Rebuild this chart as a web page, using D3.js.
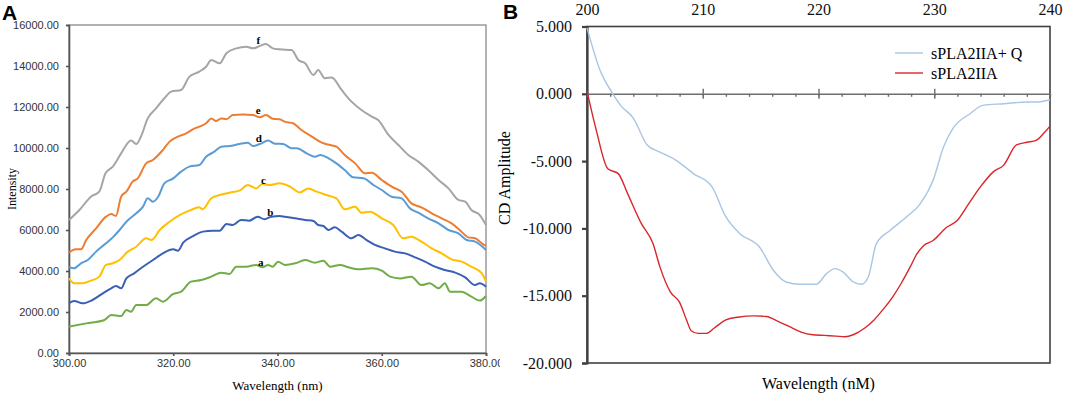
<!DOCTYPE html>
<html>
<head>
<meta charset="utf-8">
<script src="https://cdn.jsdelivr.net/npm/d3@7"></script>
<style>
  body { margin: 0; background: #fff; }
  svg { display: block; }
  .serif { font-family: "Liberation Serif", "Times New Roman", serif; }
  .axis-a text { font-family: "Liberation Sans", Arial, sans-serif; font-size: 11px; fill: #333; }
  .axis-b text { font-family: "Liberation Serif", "Times New Roman", serif; font-size: 16px; fill: #111; }
</style>
</head>
<body>
<div id="chart"></div>
<script>
// ---- Panel A: fluorescence spectra, [wavelength nm, intensity] ----
const seriesA = [[300,1285],[303.3,1445],[306.8,1610],[308.1,1855],[310,1805],[311,2100],[311.9,2015],[312.9,2340],[314.8,2340],[316.7,2665],[318,2505],[320,2880],[321.5,2990],[323.4,3480],[325.4,3560],[327.3,3725],[329.2,3920],[330.8,3855],[332.1,4210],[334,4210],[335.9,4295],[337.1,4180],[338.2,4295],[339.1,4210],[340.1,4455],[341.4,4295],[343.4,4375],[345.3,4535],[347.2,4405],[348.8,4505],[350.1,4210],[352,4295],[353.6,4180],[355.5,4080],[358.1,4130],[360,4015],[361.6,3725],[363.5,3640],[365.7,3725],[367.6,3315],[369.2,3400],[370.9,3155],[372.1,3400],[373.1,2990],[375.3,2990],[377.2,2750],[378.8,2555],[380,2780]];
const seriesB = [[300,2425],[301,2535],[302.6,2425],[304.5,2585],[306.5,2910],[308.1,3155],[309,3270],[310,3155],[311,3640],[312.5,3885],[314.2,4210],[316.1,4535],[318,4860],[320,5055],[320.9,4990],[321.9,5380],[323.8,5705],[325.7,5920],[327.6,5965],[328.9,5965],[330.2,6295],[331.4,6245],[333,6490],[334.6,6455],[336.2,6650],[337.5,6520],[338.8,6650],[340.4,6685],[341.4,6650],[343.4,6570],[345.3,6490],[346.9,6440],[347.8,6245],[348.8,6195],[349.8,6000],[351,6130],[352.3,5920],[354.2,5595],[355.5,5755],[357.1,5510],[358.7,5270],[360.6,5105],[362.5,4945],[364.5,4860],[366.4,4665],[368.3,4455],[370.2,4210],[372.1,4050],[374.1,3920],[376,3690],[377.9,3315],[378.8,3400],[380,3235]];
const seriesC = [[300,3640],[301,3400],[302.6,3400],[304.2,3530],[305.8,3725],[307.1,4295],[308.4,4375],[309.7,4535],[311.3,4945],[312.9,5185],[314.8,5595],[315.8,5510],[317.4,6000],[319.3,6405],[321.2,6730],[323.1,6945],[325,7105],[325.6,7010],[327.3,7545],[328.9,7705],[330.8,7820],[332.7,7920],[334.3,8195],[335.9,8030],[337.1,8245],[338.4,8195],[340.4,8275],[342.4,8115],[344.3,7835],[345.9,8030],[347.5,7870],[349.4,7705],[351.3,7545],[352.9,7010],[354.9,7140],[356.1,6845],[357.7,6895],[360,6570],[362.2,6245],[364.1,5595],[365.7,5675],[367.6,5430],[369.6,5105],[371.5,4860],[373.4,4570],[375.3,4455],[377.2,4210],[379.2,3885],[380,3480]];
const seriesD = [[300,4180],[301,4130],[302.3,4375],[303.6,4535],[305.2,4945],[307.1,5350],[308.4,5640],[309.7,6000],[311,6405],[312.9,6815],[314.2,7140],[315.1,7545],[316.1,7380],[317.1,7625],[318.3,8275],[320,8520],[321.5,8845],[323.1,9090],[325,9170],[326.3,9575],[327.9,9820],[329.2,10065],[330.8,10095],[332.7,10195],[334.3,10260],[335.3,10095],[336.6,10195],[338.2,10360],[339.5,10210],[341.1,10195],[342.7,9985],[343.7,9985],[345.6,9740],[347.2,9575],[348.2,9660],[349.8,9495],[351.3,9250],[352.9,8925],[354.5,8570],[356.5,8520],[358.4,8195],[360,7950],[361.9,7625],[363.8,7545],[365.4,7055],[367,6845],[368.9,6570],[370.9,6325],[372.8,6000],[374.7,5835],[376.3,5510],[377.9,5430],[380,5025]];
const seriesE = [[300,4895],[301.3,5055],[302.3,5055],[303.3,5510],[305.2,6080],[307.1,6650],[308.1,6780],[309,6685],[310,7625],[311,7870],[312.2,8360],[313.2,8520],[314.8,9250],[316.1,9415],[318,9900],[319.3,10310],[320.9,10555],[322.5,10715],[324.1,10960],[325.4,11075],[326.3,11205],[327.3,11445],[328.2,11315],[329.2,11445],[330.2,11400],[331.4,11610],[333.4,11640],[335.3,11610],[336.6,11495],[337.8,11610],[339.1,11430],[340.4,11400],[341.4,11285],[343,11205],[344.6,10880],[346.6,10555],[348.5,10260],[350.1,10145],[351.3,10065],[352.9,9660],[354.9,9250],[356.8,8765],[358.1,8795],[360,8440],[361.9,8115],[363.8,7870],[365.7,7300],[367.6,7105],[369.6,6815],[371.5,6570],[373.4,6325],[375.3,5920],[376.6,5640],[377.9,5595],[379.2,5350],[380,5220]];
const seriesF = [[300,6490],[302,6975],[304.2,7625],[305.8,7870],[307,8765],[308.4,9090],[310,9740],[311.9,10360],[312.9,10195],[313.8,10555],[315.1,11445],[316.7,11935],[318.3,12425],[319.6,12750],[321.5,12830],[323.1,13480],[325,13725],[326.3,13965],[327.3,14295],[328.9,14130],[330.2,14620],[332.1,14860],[334,14945],[335.3,14860],[336.6,14975],[337.8,15075],[339.1,14860],[340.4,14815],[342.7,14780],[344,14295],[345.3,14130],[346.9,13560],[347.8,13805],[349.1,13400],[350.4,13445],[352.3,12830],[354.2,12260],[356.1,11855],[358.1,11530],[359.3,11365],[361.3,10635],[363.2,10145],[365.1,9660],[367,9335],[368.9,8925],[370.9,8440],[372.8,8030],[374.7,7465],[376,7380],[377.2,6975],[378.8,6730],[380,6245]];

const spectraNames = ['a', 'b', 'c', 'd', 'e', 'f'];
const spectraColors = ['#70ad47', '#3a60b5', '#ffc000', '#5b9bd5', '#ed7d31', '#a5a5a5'];
// curve letter labels: [wavelength, intensity]
const letterPos = [[336.8,4440],[338.6,6880],[337.3,8440],[336.4,10490],[336.3,11850],[336.3,15270]];
const intensityTicks = [0, 2000, 4000, 6000, 8000, 10000, 12000, 14000, 16000];
const wavelengthTicksA = [300, 320, 340, 360, 380];

// ---- Panel B: CD spectra, [wavelength nm, CD amplitude] ----
const cdWithQ = [[200,4.9],[200.5,3.4],[201.1,1.8],[201.6,0.9],[202.3,-0.1],[202.9,-0.86],[204,-1.8],[205.2,-3.8],[206.3,-4.33],[207.7,-4.94],[209.2,-5.93],[210.8,-6.92],[212,-9.15],[213.2,-10.39],[214.9,-11.38],[216.1,-13.11],[217.2,-13.98],[218.4,-14.15],[219.8,-14.15],[220.7,-13.36],[221.4,-12.99],[222.1,-13.23],[223,-13.98],[223.7,-14.15],[224.3,-13.61],[225,-11.13],[226.2,-10.14],[227.6,-9.15],[228.8,-8.16],[229.9,-6.43],[230.8,-3.95],[231.6,-2.59],[233.1,-1.48],[234.2,-0.86],[236,-0.74],[238,-0.61],[238.8,-0.61],[240,-0.44]];
const cdNative = [[200,0.2],[200.8,-2.7],[201.8,-5.57],[202.7,-5.93],[203.5,-7.4],[204.7,-9.65],[205.7,-11.13],[206.3,-12.86],[207.2,-14.72],[208,-15.5],[208.6,-16.8],[209,-17.6],[209.6,-17.8],[210.3,-17.8],[211,-17.4],[212,-16.8],[213,-16.6],[214.5,-16.5],[215.5,-16.55],[216.5,-16.9],[217.5,-17.3],[218.5,-17.7],[219.5,-17.9],[220.5,-17.95],[221.5,-18.0],[222.3,-18.05],[223,-17.9],[224,-17.4],[224.8,-16.8],[225.6,-16.0],[226.4,-15.1],[227.2,-14.0],[227.9,-12.9],[228.5,-11.9],[229.05,-11.3],[229.9,-10.9],[231.1,-9.9],[232,-9.4],[232.8,-8.4],[234,-6.9],[235.1,-5.8],[236,-5.3],[237.1,-3.8],[238,-3.6],[238.8,-3.46],[239.5,-2.9],[240,-2.4]];
const cdNames = ['sPLA2IIA+ Q', 'sPLA2IIA'];
const cdColors = ['#a9c6e2', '#d9262b'];
const cdTicks = [5, 0, -5, -10, -15, -20];
const wavelengthTicksB = [200, 210, 220, 230, 240];
const wavelengthMinorB = d3.range(200, 241, 2);

const svg = d3.select('#chart').append('svg')
    .attr('width', 1065)
    .attr('height', 395);

class SpectraChart {
    constructor(_config) {
        this.config = {
            left: _config.left,
            top: _config.top,
            width: _config.width,
            height: _config.height
        };
        this.initVis();
    }

    initVis() {
        let vis = this;
        const c = vis.config;

        svg.append('clipPath').attr('id', 'clipA')
            .append('rect').attr('x', 0).attr('y', 0).attr('width', 500).attr('height', 395);

        vis.root = svg.append('g').attr('clip-path', 'url(#clipA)');
        vis.chart = vis.root.append('g')
            .attr('transform', `translate(${c.left},${c.top})`);

        vis.xScale = d3.scaleLinear().domain([300, 380]).range([0, c.width]);
        vis.yScale = d3.scaleLinear().domain([0, 16000]).range([c.height, 0]);

        // frame
        vis.chart.append('rect')
            .attr('width', c.width).attr('height', c.height)
            .attr('fill', 'none').attr('stroke', '#8a8a8a').attr('stroke-width', 1.3);

        vis.chart.append('g')
            .attr('class', 'axis-a')
            .call(d3.axisLeft(vis.yScale).tickValues(intensityTicks)
                .tickFormat(d3.format('.2f')).tickSize(3).tickPadding(7))
            .call(g => g.selectAll('path, line').attr('stroke', '#555').attr('stroke-width', 1.6));

        vis.chart.append('g')
            .attr('class', 'axis-a')
            .attr('transform', `translate(0,${c.height})`)
            .call(d3.axisBottom(vis.xScale).tickValues(wavelengthTicksA)
                .tickFormat(d3.format('.2f')).tickSize(3).tickPadding(3))
            .call(g => g.selectAll('path, line').attr('stroke', '#555').attr('stroke-width', 1.6));

        vis.root.append('text')
            .attr('class', 'serif')
            .attr('transform', 'translate(16,189) rotate(-90)')
            .attr('text-anchor', 'middle')
            .attr('font-size', 12)
            .text('Intensity');

        vis.root.append('text')
            .attr('class', 'serif')
            .attr('x', c.left + c.width / 2).attr('y', 390)
            .attr('text-anchor', 'middle')
            .attr('font-size', 13)
            .text('Wavelength (nm)');

        vis.root.append('text')
            .attr('x', 2).attr('y', 20)
            .attr('font-family', 'Liberation Sans, Arial, sans-serif')
            .attr('font-weight', 'bold').attr('font-size', 21)
            .text('A');

        vis.renderVis();
    }

    renderVis() {
        let vis = this;
        const all = [seriesA, seriesB, seriesC, seriesD, seriesE, seriesF];

        const line = d3.line()
            .x(d => vis.xScale(d[0]))
            .y(d => vis.yScale(d[1]))
            .curve(d3.curveMonotoneX);

        vis.chart.selectAll('.spectrum')
            .data(all)
          .join('path')
            .attr('class', 'spectrum')
            .attr('d', line)
            .attr('fill', 'none')
            .attr('stroke', (d, i) => spectraColors[i])
            .attr('stroke-width', 2);

        vis.chart.selectAll('.letter')
            .data(letterPos)
          .join('text')
            .attr('class', 'letter serif')
            .attr('x', d => vis.xScale(d[0]))
            .attr('y', d => vis.yScale(d[1]))
            .attr('dy', '0.35em')
            .attr('text-anchor', 'middle')
            .attr('font-size', 11)
            .attr('font-weight', 'bold')
            .text((d, i) => spectraNames[i]);
    }
}

class CdChart {
    constructor(_config) {
        this.config = {
            left: _config.left,
            top: _config.top,
            width: _config.width,
            height: _config.height
        };
        this.initVis();
    }

    initVis() {
        let vis = this;
        const c = vis.config;

        vis.chart = svg.append('g')
            .attr('transform', `translate(${c.left},${c.top})`);

        vis.xScale = d3.scaleLinear().domain([200, 240]).range([0, c.width]);
        vis.yScale = d3.scaleLinear().domain([-20, 5]).range([c.height, 0]);

        // frame
        vis.chart.append('rect')
            .attr('width', c.width).attr('height', c.height)
            .attr('fill', 'none').attr('stroke', '#404040').attr('stroke-width', 1.6);

        // y axis (left)
        vis.chart.append('g')
            .attr('class', 'axis-b')
            .call(d3.axisLeft(vis.yScale).tickValues(cdTicks)
                .tickFormat(d => d.toFixed(3)).tickSize(5).tickPadding(10))
            .call(g => g.selectAll('path, line').attr('stroke', '#404040').attr('stroke-width', 2.2));

        // category labels along the top
        vis.chart.append('g')
            .attr('class', 'axis-b')
            .call(d3.axisTop(vis.xScale).tickValues(wavelengthTicksB)
                .tickFormat(d3.format('d')).tickSize(0).tickPadding(12))
            .call(g => g.select('.domain').remove());

        // zero line with minor and major ticks
        const y0 = vis.yScale(0);
        vis.chart.append('g')
            .attr('transform', `translate(0,${y0})`)
            .call(d3.axisBottom(vis.xScale).tickValues(wavelengthMinorB)
                .tickFormat('').tickSize(3).tickSizeOuter(0))
            .call(g => g.selectAll('path, line').attr('stroke', '#6e6e6e').attr('stroke-width', 1.4));
        vis.chart.append('g')
            .attr('transform', `translate(0,${y0})`)
            .call(d3.axisTop(vis.xScale).tickValues(wavelengthTicksB.slice(1, -1))
                .tickFormat('').tickSize(5).tickSizeOuter(0))
            .call(g => g.select('.domain').remove())
            .call(g => g.selectAll('line').attr('stroke', '#6e6e6e').attr('stroke-width', 1.4));
        vis.chart.append('g')
            .attr('transform', `translate(0,${y0})`)
            .call(d3.axisBottom(vis.xScale).tickValues(wavelengthTicksB.slice(1, -1))
                .tickFormat('').tickSize(5).tickSizeOuter(0))
            .call(g => g.select('.domain').remove())
            .call(g => g.selectAll('line').attr('stroke', '#6e6e6e').attr('stroke-width', 1.4));

        svg.append('text')
            .attr('class', 'serif')
            .attr('transform', 'translate(510,178) rotate(-90)')
            .attr('text-anchor', 'middle')
            .attr('font-size', 16)
            .text('CD Amplitude');

        svg.append('text')
            .attr('class', 'serif')
            .attr('x', c.left + c.width / 2).attr('y', 389)
            .attr('text-anchor', 'middle')
            .attr('font-size', 16)
            .text('Wavelength (nM)');

        svg.append('text')
            .attr('x', 503).attr('y', 19)
            .attr('font-family', 'Liberation Sans, Arial, sans-serif')
            .attr('font-weight', 'bold').attr('font-size', 21)
            .text('B');

        vis.renderVis();
    }

    renderVis() {
        let vis = this;
        const all = [cdWithQ, cdNative];

        const line = d3.line()
            .x(d => vis.xScale(d[0]))
            .y(d => vis.yScale(d[1]))
            .curve(d3.curveMonotoneX);

        vis.chart.selectAll('.cd')
            .data(all)
          .join('path')
            .attr('class', 'cd')
            .attr('d', line)
            .attr('fill', 'none')
            .attr('stroke', (d, i) => cdColors[i])
            .attr('stroke-width', 1.4);

        // legend
        const legend = svg.append('g').attr('transform', 'translate(895,53)');
        const rows = legend.selectAll('g')
            .data(cdNames)
          .join('g')
            .attr('transform', (d, i) => `translate(0,${i * 20})`);
        rows.append('line')
            .attr('x1', 0).attr('x2', 28)
            .attr('stroke', (d, i) => cdColors[i])
            .attr('stroke-width', 1.4);
        rows.append('text')
            .attr('class', 'serif')
            .attr('x', 36).attr('dy', '0.35em')
            .attr('font-size', 16)
            .text(d => d);
    }
}

new SpectraChart({ left: 69, top: 25, width: 417, height: 328 });
new CdChart({ left: 587, top: 26.5, width: 463, height: 336.5 });
</script>
</body>
</html>
